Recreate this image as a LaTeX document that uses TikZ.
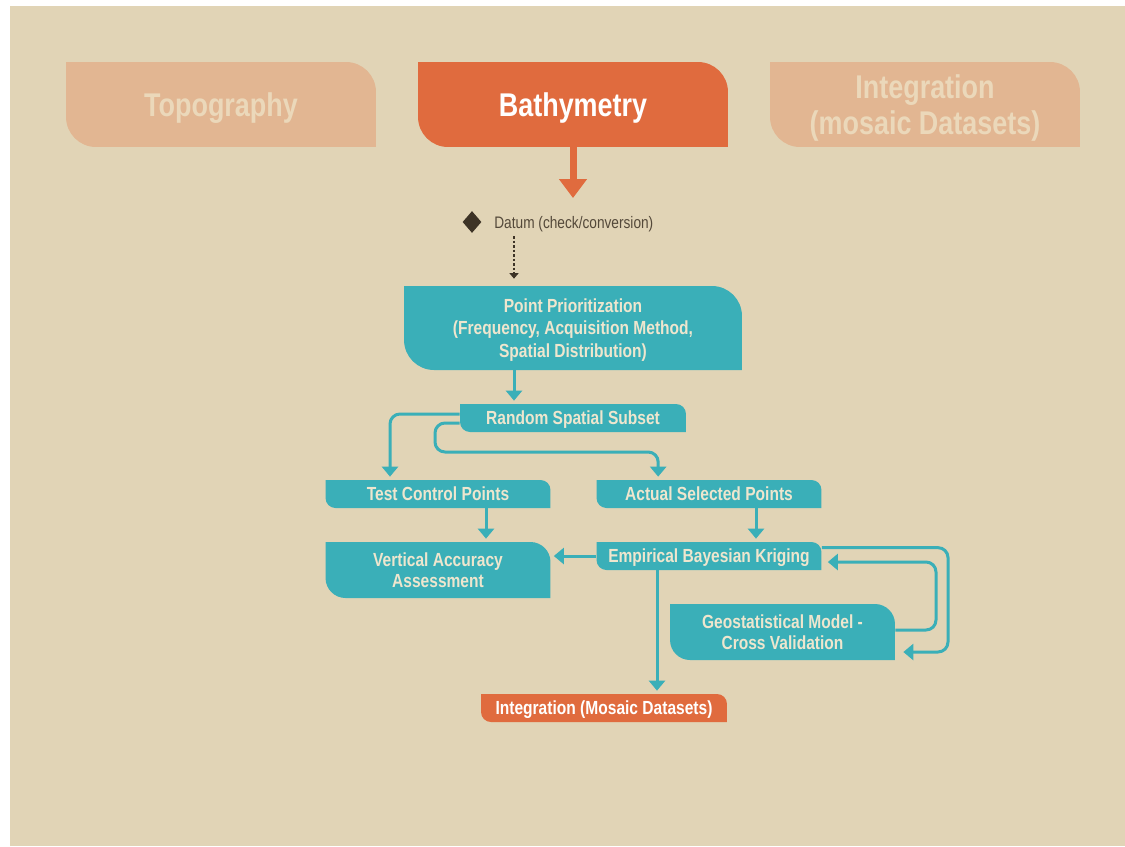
\documentclass[tikz,border=0pt]{standalone}
\usepackage{fontspec}
\setmainfont{Liberation Sans}[FakeStretch=0.82]
\usepackage{tikz}
\usetikzlibrary{arrows.meta,shapes.geometric,calc}

\definecolor{sand}{HTML}{E1D4B6}
\definecolor{peach}{HTML}{E2B692}
\definecolor{peachtext}{HTML}{EBD8BA}
\definecolor{rust}{HTML}{E06B3E}
\definecolor{lagoon}{HTML}{3AAFB8}
\definecolor{cream}{HTML}{EEE6CE}
\definecolor{umber}{HTML}{3D3326}
\definecolor{umbertext}{HTML}{54493A}

\tikzset{
  tab/.style 2 args={inner sep=0pt, align=center, fill=sand, text depth=0pt,
    path picture={\fill[#1] (path picture bounding box.north west)
      -- ([xshift=-#2]path picture bounding box.north east)
      arc[start angle=90, end angle=0, radius=#2]
      -- (path picture bounding box.south east)
      -- ([xshift=#2]path picture bounding box.south west)
      arc[start angle=270, end angle=180, radius=#2] -- cycle;}},
  head/.style={tab={#1}{0.6cm}, minimum width=6.2cm, minimum height=1.7cm,
    font=\bfseries\fontsize{18.7}{20.4}\selectfont},
  tealbox/.style={tab={lagoon}{#1}, text=cream,
    font=\bfseries\fontsize{10.8}{11.6}\selectfont},
  tealbox/.default=0.2cm,
  slim/.style={minimum width=4.5cm, minimum height=0.56cm},
  flow/.style={lagoon, line width=0.06cm,
    -{Triangle[width=0.32cm,length=0.2cm]}, shorten >=0.06cm},
}

\begin{document}
\begin{tikzpicture}[x=0.02cm, y=-0.02cm]
  \useasboundingbox (0,0) rectangle (1125,846);
  \fill[sand] (10,6) rectangle (1125,846);
  % header row
  \node[head=peach, text=peachtext] (topography) at (221,104.5) {Topography};
  \node[head=rust, text=white] (bathymetry) at (573,104.5) {Bathymetry};
  \node[head=peach, text=peachtext] (integration) at (925,104.5) {Integration\\(mosaic Datasets)};
  \coordinate (drop) at (573,198);
  \draw[rust, line width=0.14cm, -{Triangle[width=0.54cm,length=0.38cm]}] (bathymetry.south) -- (drop);
  % datum check
  \node[diamond, fill=umber, minimum width=0.38cm, minimum height=0.44cm, inner sep=0pt] (datum) at (472,222) {};
  \node[anchor=west, text=umbertext, inner sep=0pt, font=\fontsize{9.5}{11}\selectfont] (datumlabel) at (494,224) {Datum (check/conversion)};
  % workflow boxes
  \node[tealbox=0.6cm, minimum width=6.76cm, minimum height=1.68cm, font=\bfseries\fontsize{10.8}{12.6}\selectfont] (priority) at (573,328)
    {Point Prioritization\\(Frequency, Acquisition Method,\\Spatial Distribution)};
  \node[tealbox, slim, minimum width=4.52cm] (subset) at (573,418) {Random Spatial Subset};
  \node[tealbox, slim] (control) at (438,494) {Test Control Points};
  \node[tealbox, slim] (selected) at (709,494) {Actual Selected Points};
  \node[tealbox=0.4cm, slim, minimum height=1.12cm] (accuracy) at (438,570) {Vertical Accuracy\\Assessment};
  \node[tealbox, slim] (kriging) at (709,556) {Empirical Bayesian Kriging};
  \node[tealbox=0.4cm, slim, minimum height=1.12cm] (crossval) at (782.5,632) {Geostatistical Model -\\Cross Validation};
  \node[tab={rust}{0.2cm}, text=white, font=\bfseries\fontsize{10.8}{11.6}\selectfont, minimum width=4.92cm, minimum height=0.56cm] (mosaic) at (604,708) {Integration (Mosaic Datasets)};
  % connectors
  \coordinate (stem) at (514,236);
  \draw[umber, dash pattern=on 0.05cm off 0.04cm, line width=0.03cm, -{Triangle[width=0.18cm,length=0.11cm]}, shorten >=0.14cm] (stem) -- (stem |- priority.north);
  \draw[flow] (priority.south -| stem) -- (subset.north -| stem);
  \draw[flow, rounded corners=0.2cm] ([shift={(0,-4)}]subset.west) -| ([shift={(-48,0)}]control.north);
  \draw[flow, rounded corners=0.2cm] ([shift={(0,5)}]subset.west) -| (435,452) -| ([shift={(62,0)}]selected.north west);
  \draw[flow] ([shift={(48,0)}]control.south) -- ([shift={(48,0)}]accuracy.north);
  \draw[flow] ([shift={(47,0)}]selected.south) -- ([shift={(47,0)}]kriging.north);
  \draw[flow] (kriging.west) -- (kriging.west -| accuracy.east);
  \draw[flow] ([shift={(-52,0)}]kriging.south) -- ([shift={(-52,0)}]kriging.south |- mosaic.north);
  \draw[flow, rounded corners=0.2cm] ([shift={(0,6)}]kriging.north east) -| (948,652) -- ([shift={(5,20)}]crossval.east);
  \draw[flow, rounded corners=0.2cm] ([shift={(0,-2)}]crossval.east) -| (936,562) -- ([shift={(3,6)}]kriging.east);
\end{tikzpicture}
\end{document}
